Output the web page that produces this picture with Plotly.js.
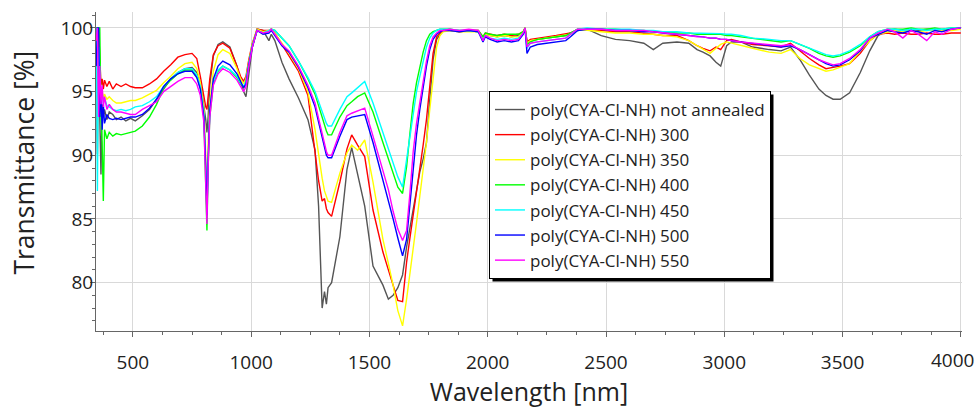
<!DOCTYPE html>
<html>
<head>
<meta charset="utf-8">
<script src="https://cdn.plot.ly/plotly-3.0.1.min.js"></script>
<style>html,body{margin:0;padding:0;background:#fff}#chart{width:977px;height:408px}</style>
</head>
<body>
<div id="chart"></div>
<script>
// Wavelength grid [nm]
const wavelength = [
  345, 350, 355, 360, 365, 370, 375, 380, 390, 400,
  415, 430, 450, 470, 490, 510, 540, 570, 600, 630,
  660, 690, 720, 750, 770, 785, 800, 808, 813, 818,
  825, 840, 860, 880, 910, 940, 955, 968, 978, 990,
  1005, 1025, 1050, 1075, 1085, 1100, 1130, 1160, 1200, 1240,
  1270, 1285, 1300, 1310, 1318, 1325, 1340, 1375, 1405, 1425,
  1450, 1480, 1515, 1557, 1580, 1600, 1620, 1640, 1657, 1671,
  1685, 1699, 1713, 1727, 1741, 1755, 1769, 1784, 1798, 1812,
  1840, 1880, 1920, 1960, 1980, 1990, 2010, 2040, 2070, 2100,
  2130, 2150, 2158, 2166, 2180, 2210, 2250, 2290, 2330, 2350,
  2380, 2420, 2480, 2540, 2600, 2660, 2700, 2740, 2800, 2850,
  2885, 2910, 2940, 2965, 2985, 3010, 3030, 3070, 3120, 3190,
  3240, 3280, 3320, 3360, 3400, 3430, 3460, 3490, 3530, 3575,
  3615, 3650, 3690, 3720, 3755, 3790, 3820, 3856, 3890, 3920, 3960, 4000
];

const notAnnealed = [
  100, 100, 100, 93, 88.5, 94, 93, 93.6, 92.8, 93.4,
  93.2, 92.8, 93.0, 92.7, 92.9, 92.7, 93.1, 93.6, 94.4, 95.3,
  96.0, 96.5, 96.8, 96.9, 96.5, 95.8, 94.0, 92.8, 91.8, 93.0,
  95.5, 97.8, 98.7, 98.9, 98.5, 97.0, 95.8, 95.0, 94.6, 96.5,
  98.5, 99.9, 99.8, 99.0, 99.5, 99.0, 97.3, 96.0, 94.5, 92.8,
  90.4, 86.0, 78.0, 79.3, 78.3, 79.6, 80.0, 83.6, 88.9, 90.6,
  88.4, 86.0, 81.3, 79.8, 78.7, 79.0, 79.6, 80.6, 82.8, 84.3,
  85.8, 87.2, 88.7, 89.7, 91.0, 94.4, 97.5, 99.1, 99.5, 99.8,
  99.8, 99.7, 99.8, 99.7, 99.2, 99.5, 99.4, 99.3, 99.4, 99.3,
  99.4, 99.7, 99.9, 99.0, 99.0, 99.1, 99.2, 99.3, 99.4, 99.6,
  99.8, 99.9, 99.4, 99.1, 99.0, 98.8, 98.3, 98.8, 98.9, 98.8,
  98.3, 98.1, 97.8, 97.3, 97.0, 98.6, 98.9, 98.9, 98.5, 98.3,
  98.2, 98.5, 97.5, 96.3, 95.2, 94.7, 94.4, 94.4, 94.9, 96.5,
  98.2, 99.4, 99.8, 99.9, 99.8, 99.9, 99.8, 99.9, 99.9, 99.8, 99.9, 100
];

const t300 = [
  96, 90.1, 100, 97, 95.5, 96, 95.2, 95.9, 95.4, 95.8,
  95.2, 95.6, 95.4, 95.6, 95.4, 95.3, 95.3, 95.6, 96.0, 96.6,
  97.1, 97.7, 97.9, 98.0, 97.6, 96.2, 94.6, 93.8, 93.6, 94.5,
  96.0, 97.9, 98.6, 98.8, 98.4, 97.0, 96.2, 95.8, 96.2, 97.5,
  98.8, 99.9, 99.8, 99.8, 99.9, 99.6, 98.7, 97.9, 96.6, 94.7,
  90.5, 88.0, 86.4, 86.6, 85.8, 85.5, 85.2, 87.9, 90.5, 91.6,
  90.8, 89.9, 85.7, 82.4, 81.0, 79.8, 78.6, 78.5, 81.6, 83.5,
  85.3, 87.0, 88.7, 90.8, 92.8, 95.5, 98.0, 99.3, 99.6, 99.8,
  99.9, 99.7, 99.8, 99.8, 99.3, 99.6, 99.5, 99.4, 99.5, 99.4,
  99.5, 99.7, 100, 98.9, 99.1, 99.2, 99.3, 99.4, 99.5, 99.6,
  99.9, 99.9, 99.8, 99.7, 99.7, 99.6, 99.5, 99.4, 99.4, 99.0,
  98.6, 98.4, 98.2, 98.5, 98.3, 99.0, 99.1, 98.9, 98.7, 98.6,
  98.5, 98.8, 98.2, 97.6, 97.1, 96.8, 96.9, 97.0, 97.2, 98.0,
  99.0, 99.5, 99.6, 99.5, 99.6, 99.5, 99.5, 99.6, 99.5, 99.5, 99.6, 99.6
];

const t350 = [
  97, 100, 99, 96, 94.5, 95.2, 94.3, 94.8, 94.4, 94.6,
  94.3, 94.1, 94.1, 94.2, 94.3, 94.3, 94.5, 94.8, 95.1, 95.7,
  96.2, 96.8, 97.2, 97.3, 96.8, 95.7, 93.6, 90.0, 87.0, 91.0,
  94.0, 96.6, 97.9, 98.3, 98.0, 96.8, 96.0, 95.6, 96.0, 97.3,
  98.7, 99.9, 99.7, 99.8, 99.9, 99.6, 98.8, 98.0, 96.8, 95.0,
  92.0, 90.0, 88.2, 87.2, 86.7, 86.4, 86.3, 88.6, 90.2, 90.8,
  90.4, 91.2, 87.9, 83.4, 81.5, 79.8, 77.8, 76.6, 78.7, 80.6,
  82.6, 84.7, 86.8, 88.9, 91.0, 93.6, 96.2, 98.5, 99.4, 99.7,
  99.8, 99.7, 99.7, 99.7, 99.2, 99.5, 99.4, 99.3, 99.4, 99.3,
  99.3, 99.7, 99.9, 98.8, 99.0, 99.1, 99.2, 99.3, 99.4, 99.5,
  99.9, 99.8, 99.7, 99.6, 99.6, 99.5, 99.5, 99.4, 99.3, 99.0,
  98.6, 98.3, 98.0, 98.4, 98.7, 98.9, 98.8, 98.6, 98.4, 98.1,
  98.0, 98.3, 97.6, 97.1, 96.8, 96.6, 96.7, 96.9, 97.2, 98.2,
  99.0, 99.5, 99.7, 99.8, 99.7, 99.8, 99.7, 99.8, 99.8, 99.8, 99.8, 99.9
];

const t400 = [
  100, 100, 100, 100, 93, 91, 86.4, 92, 91.3, 91.8,
  91.5, 91.7, 91.6, 91.7, 91.8, 91.9, 92.3, 93.0, 94.0, 95.3,
  95.9, 96.4, 96.7, 96.7, 96.2, 95.3, 93.0, 88.0, 84.1, 89.0,
  93.0, 95.6, 96.6, 97.0, 96.7, 96.1, 95.6, 95.3, 95.7, 97.2,
  98.6, 99.8, 99.6, 99.7, 99.9, 99.8, 99.2, 98.6, 97.4, 96.0,
  94.8, 93.9, 92.9, 92.3, 91.9, 91.6, 91.6, 93.0, 93.9, 94.2,
  94.6, 94.9, 93.4, 91.0, 89.7, 88.5, 87.5, 87.0, 89.1, 91.7,
  94.1, 95.7, 96.9, 98.1, 99.0, 99.5, 99.7, 99.8, 99.9, 99.9,
  99.9, 99.8, 99.8, 99.8, 99.3, 99.6, 99.5, 99.4, 99.5, 99.5,
  99.5, 99.7, 100, 98.7, 98.9, 99.1, 99.2, 99.3, 99.4, 99.6,
  99.9, 99.9, 99.9, 99.9, 99.8, 99.8, 99.7, 99.7, 99.6, 99.6,
  99.5, 99.5, 99.5, 99.5, 99.5, 99.4, 99.4, 99.3, 99.2, 99.0,
  98.9, 99.0, 98.7, 98.4, 98.0, 97.8, 97.7, 97.8, 98.1, 98.6,
  99.3, 99.7, 99.9, 99.9, 99.9, 100, 99.9, 99.9, 100, 99.9, 100, 100
];

const t450 = [
  100, 87.2, 98.5, 96, 94.5, 95, 94, 94.5, 93.9, 93.8,
  93.6, 93.5, 93.6, 93.5, 93.6, 93.8, 93.9, 94.2, 94.6, 95.4,
  96.0, 96.5, 96.8, 96.8, 96.3, 95.4, 93.2, 89.0, 85.8, 89.5,
  93.5, 95.8, 96.7, 97.0, 96.7, 96.2, 95.7, 95.4, 95.8, 97.2,
  98.6, 99.8, 99.6, 99.8, 99.9, 99.8, 99.2, 98.6, 97.4, 96.1,
  95.0, 94.2, 93.3, 92.8, 92.5, 92.3, 92.3, 93.6, 94.6, 94.9,
  95.3, 95.8, 94.1, 91.8, 90.5, 89.4, 88.3, 87.5, 89.7, 91.6,
  93.6, 95.0, 96.2, 97.5, 98.5, 99.2, 99.6, 99.8, 99.9, 99.9,
  99.9, 99.8, 99.8, 99.7, 99.1, 99.4, 99.2, 99.1, 99.2, 99.1,
  99.2, 99.6, 99.9, 98.4, 98.8, 98.9, 99.0, 99.1, 99.2, 99.5,
  99.9, 100, 99.9, 99.9, 99.9, 99.8, 99.8, 99.7, 99.7, 99.6,
  99.6, 99.6, 99.6, 99.6, 99.55, 99.5, 99.5, 99.4, 99.2, 99.1,
  99.0, 99.0, 98.7, 98.4, 98.1, 97.9, 97.8, 97.9, 98.2, 98.7,
  99.3, 99.7, 99.9, 99.9, 99.8, 99.9, 99.9, 99.8, 99.9, 99.9, 100, 100
];

const t500 = [
  97, 100, 100, 93, 95, 92, 94, 92.5, 93.2, 92.9,
  92.8, 92.9, 92.8, 92.9, 93.0, 93.0, 93.2, 93.7, 94.4, 95.4,
  96.0, 96.4, 96.6, 96.6, 96.1, 95.2, 93.0, 89.0, 85.3, 89.5,
  93.5, 96.0, 97.0, 97.4, 97.1, 96.4, 95.8, 95.3, 95.6, 97.1,
  98.5, 99.8, 99.5, 99.6, 99.8, 99.4, 98.6, 98.1, 96.9, 95.3,
  93.8, 92.6, 91.3, 90.5, 90.0, 89.8, 89.8, 91.5, 92.8, 93.0,
  93.1, 93.2, 91.0, 88.1, 86.6, 85.0, 83.5, 82.1, 83.4, 86.3,
  89.3, 91.6, 93.6, 95.5, 97.0, 98.3, 99.1, 99.5, 99.7, 99.8,
  99.8, 99.7, 99.8, 99.7, 98.9, 99.3, 99.1, 98.9, 99.0, 98.9,
  99.0, 99.5, 99.9, 98.0, 98.5, 98.7, 98.8, 98.9, 99.0, 99.3,
  99.8, 99.9, 99.9, 99.8, 99.8, 99.7, 99.7, 99.6, 99.5, 99.4,
  99.3, 99.3, 99.2, 99.2, 99.1, 99.1, 99.0, 98.9, 98.8, 98.6,
  98.5, 98.6, 98.3, 97.9, 97.5, 97.2, 97.0, 97.1, 97.5, 98.2,
  99.2, 99.5, 99.8, 99.7, 99.6, 99.8, 99.7, 99.5, 99.8, 99.7, 99.9, 100
];

const t550 = [
  99, 100, 93, 97, 94, 95.5, 93.8, 94.6, 93.6, 94.0,
  93.6, 93.4, 93.4, 93.3, 93.2, 93.2, 93.6, 93.9, 94.2, 95.0,
  95.4, 95.8, 96.1, 96.1, 95.6, 94.7, 92.6, 88.5, 84.6, 89.0,
  93.0, 95.5, 96.4, 96.8, 96.5, 95.9, 95.4, 95.0, 95.4, 97.0,
  98.5, 99.8, 99.6, 99.7, 99.9, 99.5, 98.7, 98.2, 97.0, 95.5,
  94.1, 92.9, 91.6, 90.8, 90.3, 90.0, 90.0, 91.8, 93.1, 93.3,
  93.5, 93.7, 91.5, 88.7, 87.3, 85.6, 84.2, 83.3, 84.1, 87.0,
  90.3, 92.5, 94.2, 95.9, 97.4, 98.6, 99.3, 99.6, 99.8, 99.8,
  99.9, 99.8, 99.9, 99.8, 99.0, 99.4, 99.2, 99.0, 99.1, 99.0,
  99.1, 99.6, 100, 98.5, 98.8, 98.9, 99.0, 99.1, 99.2, 99.5,
  99.9, 99.9, 99.9, 99.8, 99.8, 99.8, 99.7, 99.6, 99.5, 99.4,
  99.3, 99.3, 99.2, 99.2, 99.1, 99.1, 99.0, 98.9, 98.8, 98.7,
  98.6, 98.7, 98.3, 97.9, 97.5, 97.3, 97.1, 97.2, 97.6, 98.3,
  99.2, 99.6, 99.9, 99.7, 99.2, 99.8, 99.5, 99.0, 99.7, 99.5, 99.9, 100
];

const seriesNames = [
  'poly(CYA-Cl-NH) not annealed',
  'poly(CYA-Cl-NH) 300',
  'poly(CYA-Cl-NH) 350',
  'poly(CYA-Cl-NH) 400',
  'poly(CYA-Cl-NH) 450',
  'poly(CYA-Cl-NH) 500',
  'poly(CYA-Cl-NH) 550'
];
const seriesValues = [notAnnealed, t300, t350, t400, t450, t500, t550];
const seriesColors = ['#555555', '#ff0000', '#ffff00', '#00ff00', '#00ffff', '#0000ff', '#ff00ff'];

const xTicks = [500, 1000, 1500, 2000, 2500, 3000, 3500, 4000];
const yTicks = [80, 85, 90, 95, 100];
const xTitle = 'Wavelength [nm]';
const yTitle = 'Transmittance [%]';

const font = 'Open Sans, Noto Sans, sans-serif';

const traces = seriesValues.map((v, i) => ({
  type: 'scatter', mode: 'lines',
  x: wavelength, y: v, name: seriesNames[i],
  line: {color: seriesColors[i], width: 1.4}
}));

// last x tick label is drawn as an annotation, pulled inside the page edge
const lastTick = xTicks[xTicks.length - 1];
const xTickText = xTicks.map(v => v === lastTick ? '' : String(v));

const layout = {
  width: 977, height: 408,
  margin: {l: 96, r: 15, t: 12, b: 77},
  paper_bgcolor: '#fff', plot_bgcolor: '#fff',
  font: {family: font, color: '#222'},
  showlegend: true,
  legend: {
    x: 0.4538, y: 0.7524, xanchor: 'left', yanchor: 'top',
    bgcolor: '#fff', bordercolor: '#000', borderwidth: 1,
    font: {family: font, size: 17, color: '#222'},
    itemwidth: 30, tracegroupgap: 0
  },
  xaxis: {
    range: [344, 4005], tickvals: xTicks, ticktext: xTickText,
    ticks: 'outside', ticklen: 5, tickcolor: '#666',
    showline: true, linecolor: '#666', linewidth: 1,
    showgrid: true, gridcolor: '#d9d9d9', gridwidth: 1, zeroline: false,
    minor: {dtick: 125, tick0: 0, ticks: 'outside', ticklen: 3, tickcolor: '#666', showgrid: false},
    tickfont: {family: font, size: 19, color: '#222'},
    ticklabelstandoff: 9,
    title: {text: xTitle, font: {family: font, size: 25, color: '#222'}, standoff: 15},
    automargin: false
  },
  yaxis: {
    range: [76.2, 101.25], tickvals: yTicks, ticktext: yTicks.map(String),
    ticks: 'outside', ticklen: 5, tickcolor: '#666',
    showline: true, linecolor: '#666', linewidth: 1,
    showgrid: true, gridcolor: '#d9d9d9', gridwidth: 1, zeroline: false,
    minor: {dtick: 1, tick0: 0, ticks: 'outside', ticklen: 3, tickcolor: '#666', showgrid: false},
    tickfont: {family: font, size: 19, color: '#222'},
    ticklabelstandoff: -7,
    automargin: false
  },
  annotations: [{
    text: yTitle, textangle: -90, showarrow: false,
    xref: 'paper', yref: 'paper', x: 0, y: 0.528, xanchor: 'center', yanchor: 'middle',
    xshift: -72, font: {family: font, size: 26.5, color: '#222'}
  }, {
    text: String(lastTick), showarrow: false,
    xref: 'x', yref: 'paper', x: lastTick, y: 0, xanchor: 'right', yanchor: 'middle',
    xshift: 14, yshift: -29, borderpad: 0,
    font: {family: font, size: 19, color: '#222'}
  }]
};

Plotly.newPlot('chart', traces, layout, {displayModeBar: false, staticPlot: true}).then(gd => {
  const bg = gd.querySelector('.legend .bg');
  if (!bg) return;
  const r = bg.getBoundingClientRect();
  const host = gd.getBoundingClientRect();
  const s = gd._fullLayout._size;
  const off = 3;
  const toX = px => (px - host.left - s.l) / s.w;
  const toY = py => 1 - (py - host.top - s.t) / s.h;
  return Plotly.relayout(gd, {
    shapes: [{
      type: 'rect', xref: 'paper', yref: 'paper',
      x0: toX(r.left + off), x1: toX(r.right + off),
      y0: toY(r.bottom + off), y1: toY(r.top + off),
      fillcolor: '#000', line: {width: 0}, layer: 'above'
    }]
  });
});
</script>
</body>
</html>
